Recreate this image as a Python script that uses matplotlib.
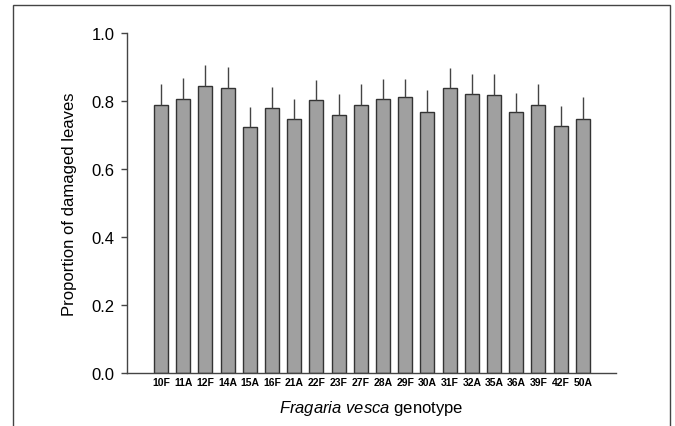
import numpy as np
import matplotlib
matplotlib.use('Agg')
import matplotlib.pyplot as plt
from matplotlib.patches import Rectangle

plt.rcParams['font.family'] = ['Liberation Sans', 'DejaVu Sans']
plt.rcParams['mathtext.fontset'] = 'custom'
plt.rcParams['mathtext.rm'] = 'Liberation Sans'
plt.rcParams['mathtext.it'] = 'Liberation Sans:italic'

# genotypes and mean proportion of damaged leaves (+ upper SE)
genotypes = ['10F', '11A', '12F', '14A', '15A', '16F', '21A', '22F', '23F', '27F',
             '28A', '29F', '30A', '31F', '32A', '35A', '36A', '39F', '42F', '50A']
means = [0.788, 0.806, 0.846, 0.839, 0.723, 0.781, 0.746, 0.803, 0.758, 0.789,
         0.805, 0.811, 0.769, 0.839, 0.820, 0.818, 0.767, 0.789, 0.726, 0.748]
errs = [0.062, 0.062, 0.060, 0.061, 0.060, 0.062, 0.061, 0.059, 0.064, 0.061,
        0.060, 0.055, 0.063, 0.058, 0.059, 0.061, 0.057, 0.061, 0.059, 0.065]

fig = plt.figure(figsize=(6.75, 4.27), dpi=100)
ax = fig.add_axes([0.188, 0.124, 0.7246, 0.796])

# outer frame like the original figure panel
fig.patches.append(Rectangle((13/675, -0.05), (670-13)/675, 1.05 - 6/427,
                             transform=fig.transFigure, fill=False,
                             edgecolor='#444444', linewidth=1.0))

x = np.arange(len(genotypes))
ax.bar(x, means, width=0.63, color='#a0a0a0', edgecolor='#333333', linewidth=1.0,
       yerr=[np.zeros(len(errs)), errs], error_kw=dict(ecolor='#444444', elinewidth=1.0, capsize=0))

ax.set_xlim(-1.53, len(genotypes) - 1 + 1.49)
ax.set_ylim(0, 1.0)
ax.set_yticks([0.0, 0.2, 0.4, 0.6, 0.8, 1.0])
ax.set_yticklabels(['0.0', '0.2', '0.4', '0.6', '0.8', '1.0'])
ax.set_xticks(x)
ax.set_xticklabels(genotypes, fontsize=7.5, fontweight='bold')

for s in ['top', 'right']:
    ax.spines[s].set_visible(False)
for s in ['left', 'bottom']:
    ax.spines[s].set_color('#444444')
    ax.spines[s].set_linewidth(1.0)

ax.tick_params(axis='y', length=4, width=1.0, color='#444444', labelsize=12, pad=5)
ax.tick_params(axis='x', length=0, pad=3)

ax.set_ylabel('Proportion of damaged leaves', fontsize=12, labelpad=10)
ax.set_xlabel(r'$\it{Fragaria\ vesca}$ genotype', fontsize=12, labelpad=8)

fig.savefig('out.png', dpi=100)
